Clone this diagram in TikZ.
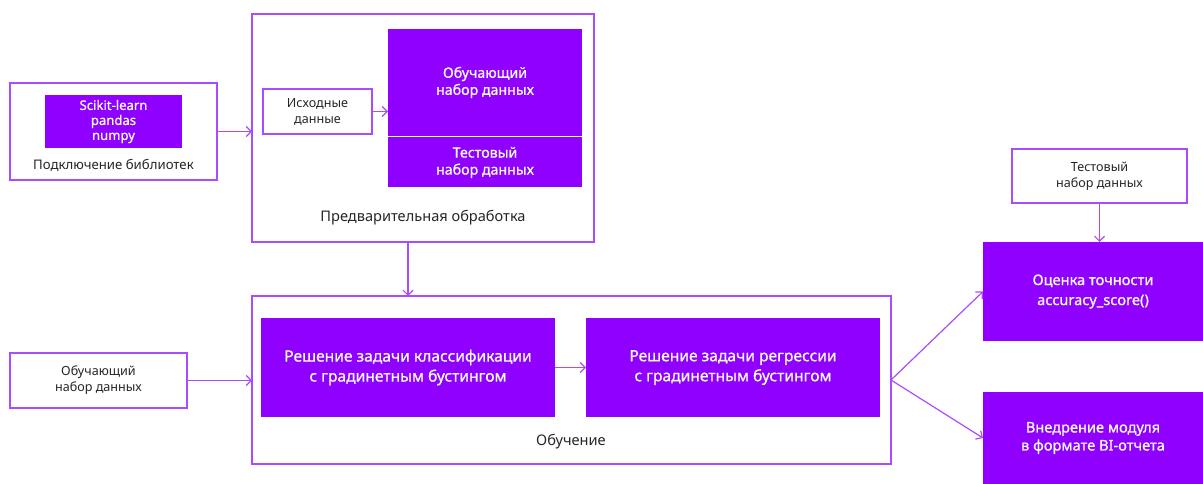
\documentclass[tikz,border=0pt]{standalone}
\usepackage{fontspec}
\setmainfont{Noto Sans}
\newfontfamily\semib{Noto Sans}[FakeBold=0.7]
\usetikzlibrary{arrows.meta}
\definecolor{vio}{HTML}{9000FF}
\definecolor{edge}{HTML}{A94CFF}
\begin{document}
\begin{tikzpicture}[x=1pt,y=-1pt,
  outline/.style={draw=edge,line width=1.2pt,fill=white,anchor=north west,inner sep=0pt,outer sep=0pt},
  filled/.style={fill=vio,draw=none,anchor=north west,inner sep=0pt,outer sep=0pt,text=white,align=center,font=\semib\fontsize{14.2}{17}\selectfont},
  bigtext/.style={font=\semib\fontsize{15.6}{20}\selectfont},
  plain/.style={align=center,text=black!85,font=\fontsize{12.6}{16}\selectfont},
  captext/.style={text=black!85,font=\fontsize{14.6}{17}\selectfont},
  conn/.style={draw=edge,line width=1.2pt,-{Straight Barb[length=5pt,width=10pt]}}]
\useasboundingbox (0,0) rectangle (1203,484);
% library box
\node[outline,minimum width=207pt,minimum height=97pt] (lib) at (10,83) {};
\node[filled,minimum width=137pt,minimum height=53pt,font=\semib\fontsize{13.1}{15}\selectfont] (libs) at (45,95) {Scikit-learn\\pandas\\numpy};
\node[captext,font=\fontsize{13.2}{15}\selectfont] (libcap) at (113.5,165) {Подключение библиотек};
% preprocessing
\node[outline,minimum width=342pt,minimum height=228pt] (pre) at (252,14) {};
\node[outline,minimum width=109pt,minimum height=45pt,plain] (raw) at (263,89) {Исходные\\данные};
\node[filled,minimum width=194pt,minimum height=107pt] (train) at (388,29) {Обучающий\\набор данных};
\node[filled,minimum width=194pt,minimum height=50pt] (test) at (388,137.5) {Тестовый\\набор данных};
\node[captext] (precap) at (423,218) {Предварительная обработка};
% learning
\node[outline,minimum width=639pt,minimum height=168pt] (learn) at (252,296) {};
\node[filled,bigtext,minimum width=294pt,minimum height=99pt] (cls) at (261,318) {Решение задачи классификации\\с градинетным бустингом};
\node[filled,bigtext,minimum width=294pt,minimum height=99pt] (reg) at (586,318) {Решение задачи регрессии\\с градинетным бустингом};
\node[captext] (learncap) at (571,442) {Обучение};
\node[outline,minimum width=177pt,minimum height=55pt,plain] (tdata) at (10,353) {Обучающий\\набор данных};
% right side
\node[outline,minimum width=175pt,minimum height=54pt,plain] (test2) at (1012,149) {Тестовый\\набор данных};
\node[filled,minimum width=220pt,minimum height=99pt,font=\semib\fontsize{14.6}{20}\selectfont] (acc) at (983,242) {Оценка точности\\accuracy\_score()};
\node[filled,minimum width=220pt,minimum height=92pt,font=\semib\fontsize{14.6}{18}\selectfont] (bi) at (983,392) {Внедрение модуля\\в формате BI-отчета};
\coordinate (fork) at (891,380);
\coordinate (predown) at (408,242);
% connectors
\draw[conn] (lib.east) -- (pre.west |- lib.east);
\draw[conn] (raw.east) -- (train.west |- raw.east);
\draw[conn] (predown) -- (predown |- learn.north);
\draw[conn] (tdata.east) -- (learn.west |- tdata.east);
\draw[conn] (cls.east) -- (reg.west);
\draw[draw=edge,line width=1.2pt] (learn.east) -- (fork);
\draw[conn] (fork) -- (acc.west);
\draw[conn] (fork) -- (bi.west);
\draw[conn] (test2.south) -- (test2.south |- acc.north);
\end{tikzpicture}
\end{document}
